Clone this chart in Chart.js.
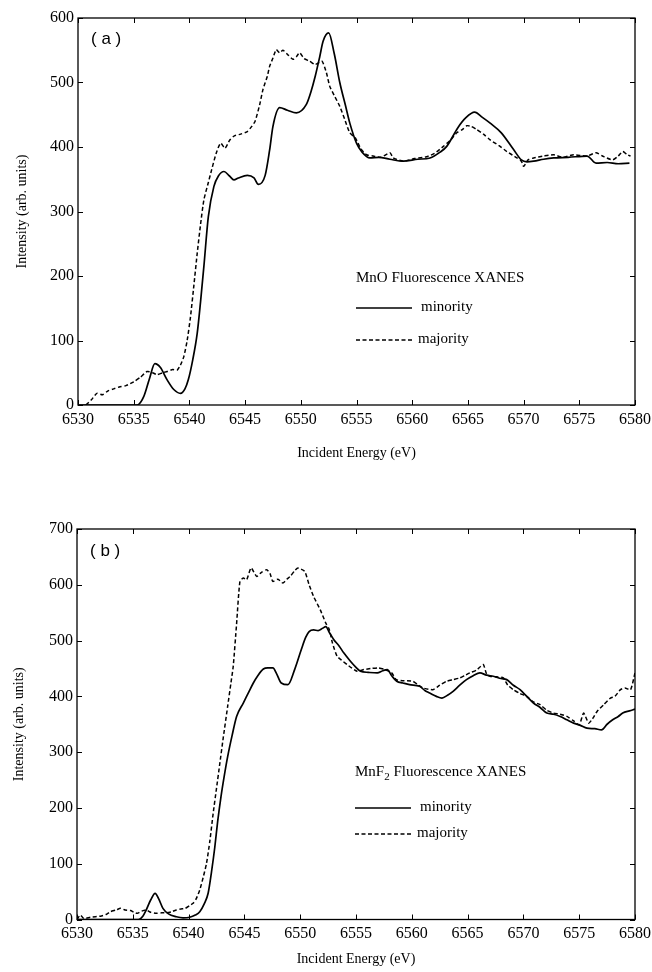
<!DOCTYPE html>
<html>
<head>
<meta charset="utf-8">
<script src="https://cdn.jsdelivr.net/npm/chart.js@4.4.1/dist/chart.umd.min.js"></script>
<style>
  html, body { margin: 0; padding: 0; background: #fff; }
  canvas { display: block; position: absolute; left: 0; }
  #chartA { top: 0; }
  #chartB { top: 480px; }
</style>
</head>
<body>
<canvas id="chartA" width="652" height="480"></canvas>
<canvas id="chartB" width="652" height="492"></canvas>
<script>
// Mn K-edge fluorescence XANES, minority / majority spin

// x tick labels (eV)
const energyTicks = [6530, 6535, 6540, 6545, 6550, 6555, 6560, 6565, 6570, 6575, 6580];

// (a) MnO - minority (solid)
const aMinX = [6530, 6533, 6535.3, 6535.9, 6536.4, 6536.9, 6537.4, 6538.0, 6538.6, 6539.2, 6539.6, 6539.9,
  6540.3, 6540.7, 6541.0, 6541.3, 6541.7, 6542.2, 6542.6, 6543.1, 6543.6, 6544.0, 6544.4, 6545.2, 6545.8,
  6546.2, 6546.8, 6547.2, 6547.5, 6548.1, 6548.8, 6549.6, 6550.5, 6550.9, 6551.3, 6551.7, 6552.0, 6552.5,
  6553.0, 6553.5, 6554.0, 6554.4, 6555.0, 6555.5, 6556.2, 6557.0, 6558.0, 6559.2, 6560.5, 6561.6, 6562.5,
  6563.1, 6564.1, 6564.8, 6565.6, 6566.3, 6567.0, 6568.0, 6569.1, 6569.8, 6570.3, 6570.9, 6571.8, 6572.7,
  6574.0, 6575.7, 6576.5, 6577.5, 6578.5, 6579.5];
const aMinY = [0, 0, 0, 13, 40, 64, 58, 39, 24, 18, 25, 39,
  70, 111, 160, 215, 292, 339, 355, 362, 355, 349, 352, 356, 352,
  342, 356, 395, 432, 461, 457, 453, 466, 485, 510, 540, 564, 577,
  545, 500, 465, 437, 406, 392, 383, 384, 381, 378, 381, 383, 392,
  401, 430, 445, 454, 446, 437, 422, 396, 380, 377, 378, 381, 383,
  384, 386, 375, 376, 374, 375];

// (a) MnO - majority (dashed)
const aMajX = [6530.7, 6531.2, 6531.7, 6532.2, 6532.7, 6533.2, 6533.7, 6534.3, 6535.0, 6535.6, 6536.2, 6536.7,
  6537.1, 6537.6, 6538.0, 6538.5, 6538.9, 6539.2, 6539.5, 6539.8, 6540.1, 6540.4, 6540.7, 6541.0, 6541.3,
  6541.7, 6542.0, 6542.4, 6542.8, 6543.2, 6543.6, 6544.0, 6544.6, 6545.2, 6545.6, 6545.9, 6546.3, 6546.6,
  6547.0, 6547.2, 6547.5, 6547.8, 6548.1, 6548.4, 6548.9, 6549.3, 6549.6, 6549.9, 6550.3, 6550.8, 6551.3,
  6551.9, 6552.3, 6552.6, 6553.0, 6553.5, 6554.0, 6554.4, 6554.9, 6555.4, 6555.9, 6556.5, 6557.2, 6558.0,
  6558.3, 6559.2, 6560.2, 6561.3, 6562.0, 6562.8, 6563.4, 6564.0, 6564.5, 6564.9, 6565.3, 6565.8, 6566.4,
  6567.0, 6567.8, 6568.5, 6569.4, 6569.8, 6570.0, 6570.4, 6570.9, 6571.8, 6572.7, 6573.5, 6574.5, 6575.7,
  6576.5, 6577.2, 6578.0, 6578.5, 6578.9, 6579.3, 6579.6];
const aMajY = [0, 8, 18, 16, 22, 25, 28, 30, 36, 43, 52, 50,
  47, 50, 52, 55, 54, 62, 75, 100, 137, 185, 235, 280, 318,
  345, 365, 390, 406, 398, 410, 417, 420, 424, 432, 440, 465, 489,
  510, 525, 538, 551, 546, 550, 542, 536, 540, 546, 537, 533, 528,
  533, 515, 494, 480, 463, 440, 422, 414, 397, 388, 386, 384, 391,
  383, 378, 382, 385, 390, 401, 410, 422, 427, 433, 432, 427, 420,
  411, 402, 393, 383, 378, 370, 380, 383, 386, 388, 384, 388, 386,
  391, 385, 380, 386, 393, 388, 386];

// (b) MnF2 - minority (solid)
const bMinX = [6530, 6535.5, 6535.9, 6536.2, 6536.6, 6537.0, 6537.3, 6537.7, 6538.2, 6538.9, 6539.5, 6540.1,
  6540.6, 6541.0, 6541.4, 6541.75, 6542.05, 6542.35, 6542.6, 6542.9, 6543.2, 6543.5, 6543.9, 6544.3, 6544.9,
  6545.4, 6545.8, 6546.2, 6546.7, 6547.1, 6547.55, 6547.9, 6548.3, 6548.9, 6549.5, 6550.1, 6550.5, 6550.8,
  6551.2, 6551.6, 6552.0, 6552.3, 6552.6, 6553.0, 6553.5, 6553.9, 6554.5, 6555.0, 6555.4, 6556.1, 6556.9,
  6557.4, 6557.8, 6558.2, 6558.65, 6559.2, 6559.8, 6560.7, 6561.2, 6561.6, 6562.2, 6562.7, 6563.2, 6563.7,
  6564.3, 6564.9, 6565.5, 6566.1, 6566.7, 6567.3, 6568.0, 6568.5, 6569.1, 6569.7, 6570.3, 6570.9, 6571.5,
  6572.1, 6572.7, 6573.3, 6573.9, 6574.5, 6575.1, 6575.7, 6576.4, 6577.0, 6577.5, 6578.0, 6578.5, 6578.9,
  6579.5, 6580];
const bMinY = [0, 0, 6, 17, 35, 47, 38, 20, 10, 5, 3, 4,
  8, 14, 28, 47, 85, 130, 175, 220, 258, 292, 330, 364, 388,
  408, 424, 437, 449, 451, 451, 440, 424, 421, 448, 484, 506, 516,
  519, 518, 522, 525, 515, 502, 490, 478, 463, 452, 445, 443, 442,
  446, 448, 437, 427, 424, 421, 418, 410, 406, 400, 397, 402, 409,
  420, 430, 437, 442, 438, 436, 432, 430, 420, 412, 400, 388, 380,
  370, 368, 364, 358, 352, 348, 343, 342, 340, 350, 358, 364, 370,
  374, 377];

// (b) MnF2 - majority (dashed)
const bMajX = [6530, 6530.3, 6530.6, 6531.2, 6532.1, 6532.6, 6533.0, 6533.5, 6533.9, 6534.3, 6534.8, 6535.1,
  6535.4, 6535.8, 6536.2, 6536.6, 6537.1, 6537.6, 6538.0, 6538.5, 6538.9, 6539.3, 6539.7, 6540.1, 6540.4,
  6540.7, 6541.0, 6541.3, 6541.6, 6541.9, 6542.2, 6542.5, 6542.8, 6543.1, 6543.5, 6543.8, 6544.0, 6544.3,
  6544.6, 6544.9, 6545.2, 6545.6, 6546.1, 6546.5, 6547.0, 6547.3, 6547.55, 6548.0, 6548.45, 6548.8, 6549.1,
  6549.5, 6549.8, 6550.4, 6550.8, 6551.2, 6551.8, 6552.3, 6552.6, 6552.9, 6553.3, 6553.7, 6554.2, 6555.1,
  6555.7, 6556.4, 6557.0, 6557.6, 6558.2, 6558.6, 6559.3, 6560.1, 6560.6, 6561.0, 6561.9, 6562.5, 6563.1,
  6563.7, 6564.3, 6564.8, 6565.2, 6565.8, 6566.4, 6566.7, 6567.0, 6567.6, 6568.2, 6568.6, 6569.1, 6569.7,
  6570.3, 6570.9, 6571.5, 6572.1, 6572.7, 6573.3, 6573.9, 6574.5, 6575.0, 6575.4, 6575.85, 6576.2, 6576.6,
  6577.2, 6577.8, 6578.2, 6578.7, 6579.1, 6579.6, 6580];
const bMajY = [0, 8, 2, 4, 6, 9, 14, 17, 20, 17, 16, 13,
  11, 15, 17, 13, 11, 12, 12, 14, 17, 19, 20, 25, 29,
  38, 53, 75, 100, 140, 190, 235, 280, 325, 382, 425, 454, 530,
  606, 612, 609, 630, 615, 622, 627, 620, 606, 610, 603, 610, 615,
  625, 630, 624, 600, 579, 555, 531, 520, 495, 472, 465, 457, 445,
  448, 450, 451, 448, 442, 430, 428, 427, 420, 415, 412, 420, 427,
  430, 433, 438, 442, 447, 457, 440, 436, 435, 433, 420, 412, 405,
  400, 390, 385, 375, 370, 368, 364, 356, 349, 370, 352, 360, 373,
  385, 397, 400, 412, 415, 412, 442];

const SERIF = '"Liberation Serif", "Times New Roman", serif';

function toPoints(xs, ys) {
    return xs.map((x, i) => ({ x: x, y: ys[i] }));
}

// frame, inward ticks, panel tag and the hand-placed legend
const framePlugin = {
    id: 'frame',
    afterDraw(chart, args, opts) {
        const { ctx, chartArea: a } = chart;
        const xs = chart.scales.x, ys = chart.scales.y;
        ctx.save();
        ctx.strokeStyle = '#000';
        ctx.lineWidth = 1.3;
        ctx.strokeRect(a.left, a.top, a.right - a.left, a.bottom - a.top);

        ctx.beginPath();
        xs.ticks.forEach(t => {
            const px = Math.round(xs.getPixelForValue(t.value)) + 0.5;
            ctx.moveTo(px, a.bottom); ctx.lineTo(px, a.bottom - 5);
            ctx.moveTo(px, a.top); ctx.lineTo(px, a.top + 5);
        });
        ys.ticks.forEach(t => {
            const py = Math.round(ys.getPixelForValue(t.value)) + 0.5;
            ctx.moveTo(a.left, py); ctx.lineTo(a.left + 5, py);
            ctx.moveTo(a.right, py); ctx.lineTo(a.right - 5, py);
        });
        ctx.lineWidth = 1;
        ctx.stroke();

        // (a) / (b)
        ctx.fillStyle = '#000';
        ctx.font = '17px "Liberation Sans", Arial, sans-serif';
        ctx.textBaseline = 'middle';
        ctx.textAlign = 'left';
        ctx.fillText(opts.tag, a.left + 13, a.top + opts.tagDy);

        // legend block
        const lx = a.left + 278;
        let ty = a.top + opts.titleDy;
        ctx.font = '15px ' + SERIF;
        let cx = lx;
        ctx.fillText(opts.compound, cx, ty);
        cx += ctx.measureText(opts.compound).width;
        if (opts.sub) {
            ctx.font = '11px ' + SERIF;
            ctx.fillText(opts.sub, cx, ty + 5);
            cx += ctx.measureText(opts.sub).width;
            ctx.font = '15px ' + SERIF;
        }
        ctx.fillText(' Fluorescence XANES', cx, ty);

        const rows = [
            { label: 'minority', dy: opts.minDy, dash: [], tx: 65 },
            { label: 'majority', dy: opts.majDy, dash: [4, 2.5], tx: 62 }
        ];
        rows.forEach(r => {
            const y = a.top + r.dy;
            ctx.beginPath();
            ctx.setLineDash(r.dash);
            ctx.lineWidth = 1.4;
            ctx.moveTo(lx, y); ctx.lineTo(lx + 56, y);
            ctx.stroke();
            ctx.setLineDash([]);
            ctx.fillText(r.label, lx + r.tx, y - 1);
        });
        ctx.restore();
    }
};

function makePanel(canvasId, minPts, majPts, yMax, lay, frameOpts) {
    const ctx = document.getElementById(canvasId).getContext('2d');
    return new Chart(ctx, {
        type: 'line',
        data: {
            datasets: [{
                label: 'minority',
                data: minPts,
                borderColor: '#000',
                borderWidth: 1.7,
                pointRadius: 0,
                tension: 0.3,
                cubicInterpolationMode: 'monotone',
                fill: false
            }, {
                label: 'majority',
                data: majPts,
                borderColor: '#000',
                borderWidth: 1.5,
                borderDash: [4, 2.5],
                pointRadius: 0,
                tension: 0.2,
                fill: false
            }]
        },
        options: {
            responsive: false,
            animation: false,
            layout: { padding: { left: 0, right: 17, top: lay.top, bottom: 0 } },
            plugins: {
                legend: { display: false },
                tooltip: { enabled: false },
                frame: frameOpts
            },
            scales: {
                x: {
                    type: 'linear',
                    min: 6530,
                    max: 6580,
                    afterBuildTicks: s => { s.ticks = energyTicks.map(v => ({ value: v })); },
                    afterFit: s => {
                        s.height = lay.xHeight;
                        s.paddingLeft = 0;
                        s.paddingRight = 0;
                    },
                    grid: { display: false, drawTicks: false },
                    border: { display: false },
                    ticks: {
                        color: '#000',
                        padding: lay.xPad,
                        maxRotation: 0,
                        font: { family: SERIF, size: 16 },
                        callback: v => String(v)
                    },
                    title: {
                        display: true,
                        text: 'Incident Energy (eV)',
                        color: '#000',
                        font: { family: SERIF, size: 14 },
                        padding: { top: 0, bottom: lay.xTitlePad }
                    }
                },
                y: {
                    min: 0,
                    max: yMax,
                    afterFit: s => {
                        s.width = lay.left;
                        s.paddingTop = 0;
                        s.paddingBottom = 0;
                    },
                    grid: { display: false, drawTicks: false },
                    border: { display: false },
                    ticks: {
                        color: '#000',
                        stepSize: 100,
                        padding: 4,
                        font: { family: SERIF, size: 16 }
                    },
                    title: {
                        display: true,
                        text: 'Intensity (arb. units)',
                        color: '#000',
                        font: { family: SERIF, size: 14 },
                        padding: { top: lay.yTitlePad, bottom: 0 }
                    }
                }
            }
        },
        plugins: [framePlugin]
    });
}

makePanel('chartA', toPoints(aMinX, aMinY), toPoints(aMajX, aMajY), 600,
    { top: 18, left: 78, xHeight: 75, xPad: 5, xTitlePad: 18, yTitlePad: 14 },
    { tag: '( a )', tagDy: 21, compound: 'MnO', sub: '', titleDy: 260, minDy: 290, majDy: 322 });

makePanel('chartB', toPoints(bMinX, bMinY), toPoints(bMajX, bMajY), 700,
    { top: 49, left: 77, xHeight: 52.5, xPad: 5, xTitlePad: 4, yTitlePad: 11 },
    { tag: '( b )', tagDy: 22, compound: 'MnF', sub: '2', titleDy: 243, minDy: 279, majDy: 305 });
</script>
</body>
</html>
